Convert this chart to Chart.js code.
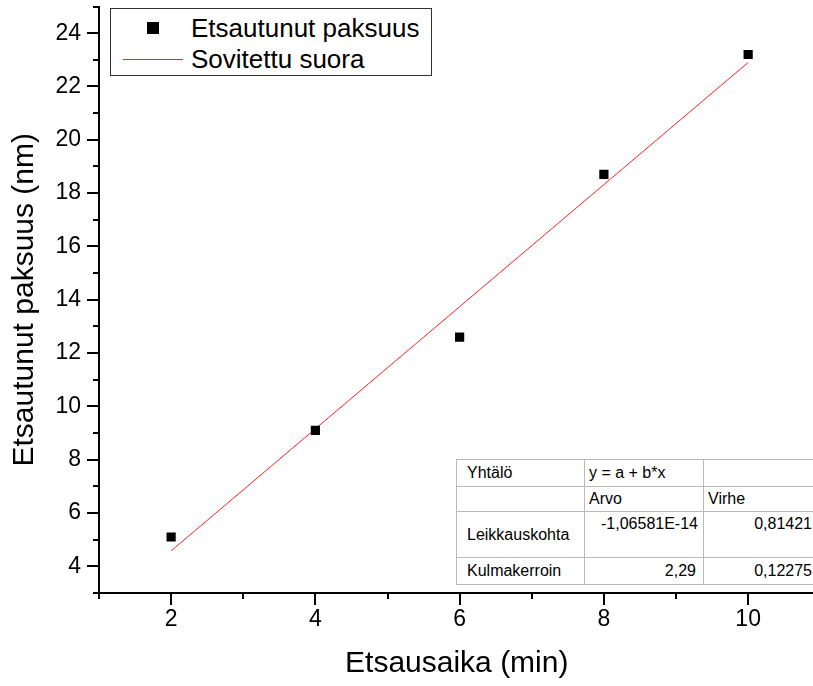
<!DOCTYPE html>
<html>
<head>
<meta charset="utf-8">
<script src="https://cdn.jsdelivr.net/npm/chart.js@4.4.0/dist/chart.umd.min.js"></script>
<style>
  html, body { margin: 0; padding: 0; background: #fff; }
  #wrap { position: relative; width: 813px; height: 686px; overflow: hidden; font-family: "Liberation Sans", Arial, sans-serif; }
  #chart { position: absolute; left: 0; top: 0; }
  #legend { position: absolute; left: 110px; top: 8px; width: 320px; height: 66px; border: 1px solid #333; background: #fff; }
  #legend .row { position: absolute; left: 0; height: 30px; font-size: 26px; line-height: 30px; color: #000; }
  #legend .txt { position: absolute; left: 80px; white-space: nowrap; }
  #fitTable { position: absolute; left: 456px; top: 459px; border-collapse: collapse; table-layout: fixed; width: 360px; background: #fff; font-size: 16px; color: #000; }
  #fitTable td { border: 1px solid #bbb; padding: 0 4px; vertical-align: middle; white-space: nowrap; overflow: hidden; }
</style>
</head>
<body>
<div id="wrap">
  <canvas id="chart" width="821" height="686"></canvas>
  <div id="legend">
    <div class="row" style="top:4px;"><span style="position:absolute;left:36px;top:9px;width:12px;height:12px;background:#000;"></span><span class="txt">Etsautunut paksuus</span></div>
    <div class="row" style="top:35px;"><span style="position:absolute;left:12px;top:15px;width:60px;height:1px;background:#ff2020;"></span><span class="txt">Sovitettu suora</span></div>
  </div>
  <table id="fitTable">
    <colgroup><col style="width:128px;"><col style="width:119px;"><col style="width:113px;"></colgroup>
    <tr style="height:27px;"><td style="padding-left:10px;">Yhtälö</td><td>y = a + b*x</td><td></td></tr>
    <tr style="height:25px;"><td></td><td>Arvo</td><td>Virhe</td></tr>
    <tr style="height:46px;"><td style="padding-left:10px;">Leikkauskohta</td><td style="text-align:right;vertical-align:top;padding-top:3px;padding-right:5px;">-1,06581E-14</td><td style="text-align:right;vertical-align:top;padding-top:3px;padding-right:4px;">0,81421</td></tr>
    <tr style="height:27px;"><td style="padding-left:10px;">Kulmakerroin</td><td style="text-align:right;padding-right:7px;">2,29</td><td style="text-align:right;padding-right:4px;">0,12275</td></tr>
  </table>
</div>
<script>
// mitatut arvot
const etsausaika = [2, 4, 6, 8, 10];
const paksuus = [5.1, 9.1, 12.6, 18.7, 23.2];

// sovitettu suora y = a + b*x
const leikkaus = -1.06581e-14;
const kulmakerroin = 2.29;
const suoraX = [2, 10];

const xTicks = [1, 2, 3, 4, 5, 6, 7, 8, 9, 10];
const yTicks = [3, 4, 5, 6, 7, 8, 9, 10, 11, 12, 13, 14, 15, 16, 17, 18, 19, 20, 21, 22, 23, 24, 25];

const pisteet = etsausaika.map((x, i) => ({ x: x, y: paksuus[i] }));
const suora = suoraX.map(x => ({ x: x, y: leikkaus + kulmakerroin * x }));

// piirretään pää- ja väliviivat akseleille
const tickPlugin = {
    id: 'tickMarks',
    afterDraw(chart) {
        const ctx = chart.ctx;
        const xs = chart.scales.x;
        const ys = chart.scales.y;
        ctx.save();
        ctx.strokeStyle = '#000';
        ctx.lineWidth = 2;
        xTicks.forEach(v => {
            const px = Math.round(xs.getPixelForValue(v));
            const len = v % 2 === 0 ? 12 : 6;
            ctx.beginPath();
            ctx.moveTo(px, xs.top);
            ctx.lineTo(px, xs.top + len);
            ctx.stroke();
        });
        yTicks.forEach(v => {
            const py = Math.round(ys.getPixelForValue(v));
            const len = v % 2 === 0 ? 12 : 6;
            ctx.beginPath();
            ctx.moveTo(ys.right, py);
            ctx.lineTo(ys.right - len, py);
            ctx.stroke();
        });
        ctx.restore();
    }
};

const ctx = document.getElementById('chart').getContext('2d');
new Chart(ctx, {
    type: 'scatter',
    data: {
        datasets: [
            {
                label: 'Sovitettu suora',
                data: suora,
                showLine: true,
                borderColor: '#ff2020',
                borderWidth: 1,
                pointRadius: 0,
                fill: false,
                order: 2
            },
            {
                label: 'Etsautunut paksuus',
                data: pisteet,
                pointStyle: 'rect',
                pointRadius: 6.5,
                backgroundColor: '#000',
                borderColor: '#000',
                borderWidth: 0,
                order: 1
            }
        ]
    },
    options: {
        responsive: false,
        animation: false,
        layout: { padding: { top: 6, right: 0, left: 0, bottom: 0 } },
        plugins: {
            legend: { display: false },
            tooltip: { enabled: false }
        },
        scales: {
            x: {
                type: 'linear',
                min: 1,
                max: 10.92,
                afterBuildTicks: s => { s.ticks = xTicks.map(v => ({ value: v })); },
                afterFit: s => { s.height = 93; s.paddingLeft = 0; s.paddingRight = 0; },
                grid: { display: true, drawOnChartArea: false, drawTicks: false },
                border: { color: '#000', width: 2 },
                ticks: {
                    color: '#000',
                    font: { family: 'Liberation Sans', size: 23 },
                    padding: 13,
                    maxRotation: 0,
                    autoSkip: false,
                    callback: v => (v % 2 === 0 ? v : '')
                },
                title: {
                    display: true,
                    text: 'Etsausaika (min)',
                    color: '#000',
                    font: { family: 'Liberation Sans', size: 30 },
                    padding: { top: 0, bottom: 4 }
                }
            },
            y: {
                type: 'linear',
                min: 3,
                max: 25,
                afterBuildTicks: s => { s.ticks = yTicks.map(v => ({ value: v })); },
                afterFit: s => { s.width = 99; s.paddingTop = 0; s.paddingBottom = 0; },
                grid: { display: true, drawOnChartArea: false, drawTicks: false },
                border: { color: '#000', width: 2 },
                ticks: {
                    color: '#000',
                    font: { family: 'Liberation Sans', size: 23 },
                    padding: 18,
                    autoSkip: false,
                    callback: v => (v % 2 === 0 ? v : '')
                },
                title: {
                    display: true,
                    text: 'Etsautunut paksuus (nm)',
                    color: '#000',
                    font: { family: 'Liberation Sans', size: 30 },
                    padding: { top: 7, bottom: 0 }
                }
            }
        }
    },
    plugins: [tickPlugin]
});
</script>
</body>
</html>
